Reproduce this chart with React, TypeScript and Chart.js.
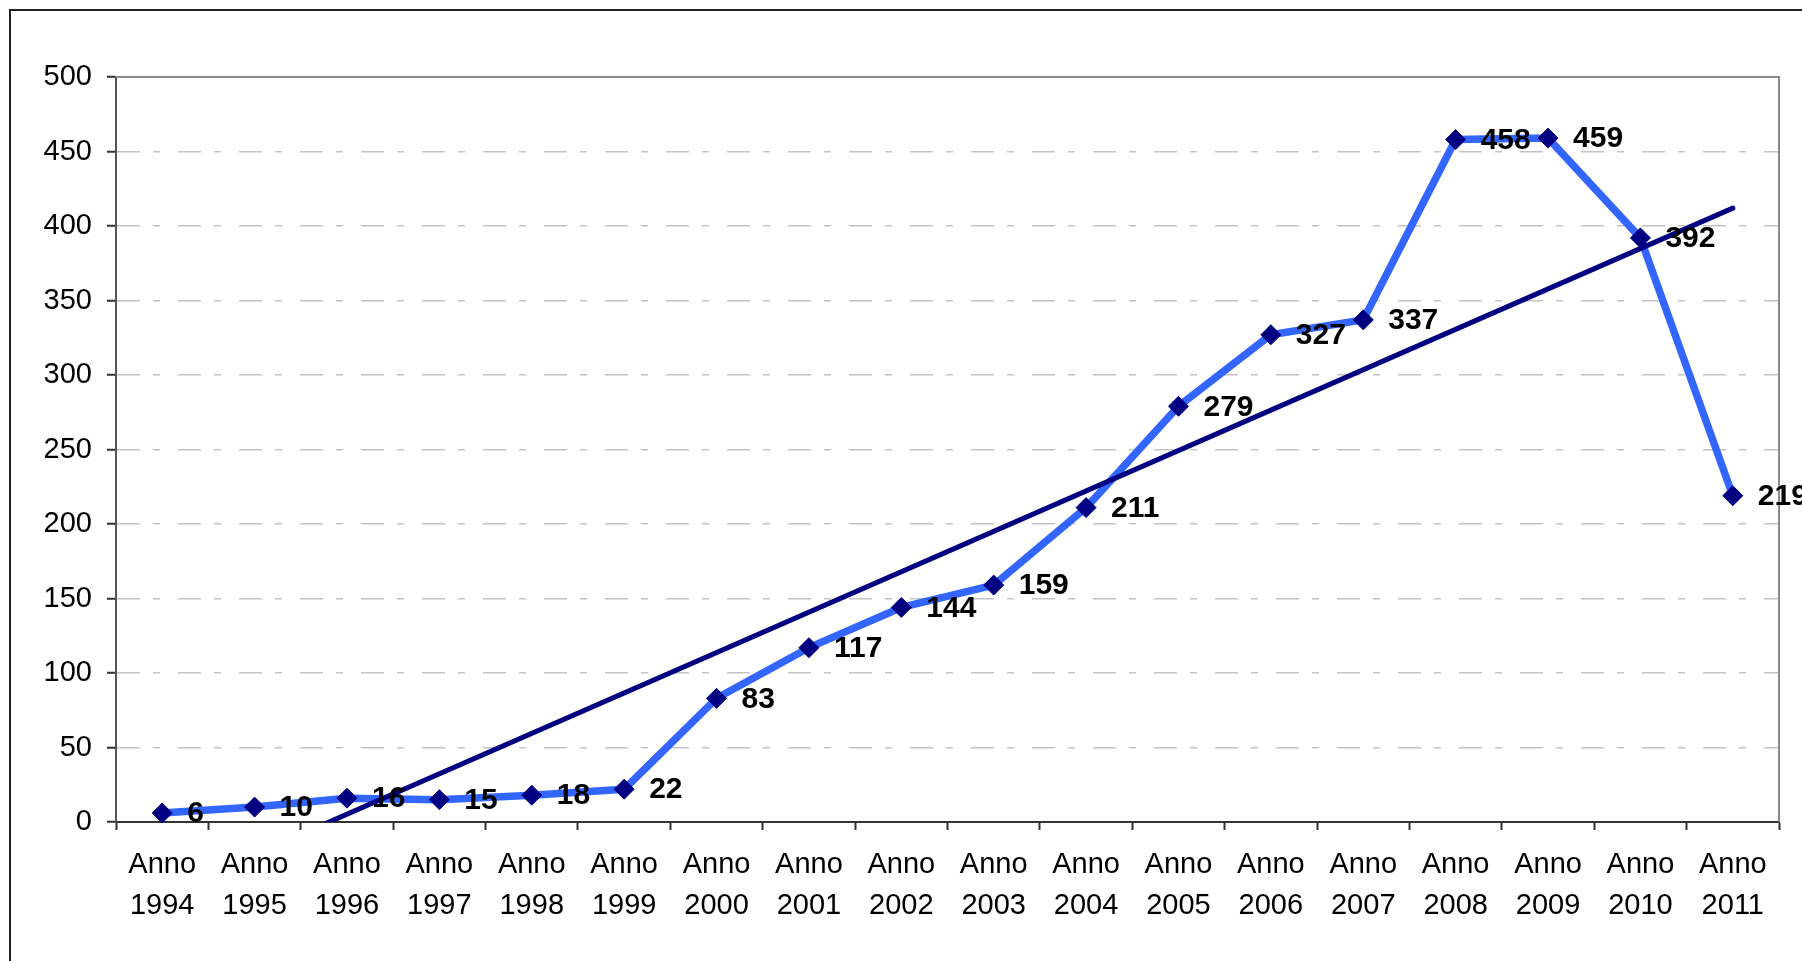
import React, { useEffect, useRef } from "react";
import { Chart, registerables } from "chart.js";

Chart.register(...registerables);

const years = [1994, 1995, 1996, 1997, 1998, 1999, 2000, 2001, 2002, 2003, 2004, 2005, 2006, 2007, 2008, 2009, 2010, 2011];
const categoryPrefix = "Anno";
const values = [6, 10, 16, 15, 18, 22, 83, 117, 144, 159, 211, 279, 327, 337, 458, 459, 392, 219];
// trend line (linear) as read at first and last year
const trendFirst = -49;
const trendLast = 412;
const yMin = 0;
const yMax = 500;
const yStep = 50;

const FONT = "'Liberation Sans', Arial, sans-serif";

export default function App() {
  const ref = useRef<HTMLCanvasElement | null>(null);

  useEffect(() => {
    if (!ref.current) return;
    const labels = years.map((y) => [categoryPrefix, String(y)]);
    const trend = values.map((_, i) => (i === 0 ? trendFirst : i === values.length - 1 ? trendLast : null));

    const plotFrame = {
      id: "plotFrame",
      beforeDatasetsDraw(chart: any) {
        const { ctx, chartArea } = chart;
        ctx.save();
        ctx.strokeStyle = "#8a8a8a";
        ctx.lineWidth = 2;
        ctx.beginPath();
        ctx.moveTo(chartArea.left, chartArea.top);
        ctx.lineTo(chartArea.right, chartArea.top);
        ctx.lineTo(chartArea.right, chartArea.bottom);
        ctx.stroke();
        ctx.restore();
      },
    };

    const dataLabels = {
      id: "dataLabels",
      afterDatasetsDraw(chart: any) {
        const { ctx } = chart;
        const meta = chart.getDatasetMeta(1);
        ctx.save();
        ctx.font = `bold 30px ${FONT}`;
        ctx.fillStyle = "#000000";
        ctx.textAlign = "left";
        ctx.textBaseline = "middle";
        meta.data.forEach((pt: any, i: number) => {
          ctx.fillText(String(values[i]), pt.x + 25, pt.y + 1);
        });
        ctx.restore();
      },
    };

    const chart = new Chart(ref.current, {
      type: "line",
      data: {
        labels,
        datasets: [
          {
            label: "Tendenza",
            data: trend as any,
            spanGaps: true,
            borderColor: "#000080",
            borderWidth: 5,
            borderCapStyle: "round",
            pointRadius: 0,
            pointHoverRadius: 0,
            tension: 0,
            clip: 0 as any,
          },
          {
            label: "Valori",
            data: values,
            borderColor: "#3366FF",
            borderWidth: 7.5,
            borderJoinStyle: "round",
            pointStyle: "rectRot",
            pointRadius: 10,
            pointBackgroundColor: "#000080",
            pointBorderColor: "#000080",
            pointBorderWidth: 1,
            tension: 0,
            clip: false as any,
          },
        ],
      },
      options: {
        animation: false,
        responsive: false,
        devicePixelRatio: 1,
        layout: { padding: { left: 0, right: 23, top: 77, bottom: 0 } },
        plugins: { legend: { display: false }, tooltip: { enabled: false } },
        scales: {
          x: {
            offset: true,
            afterFit(scale: any) {
              scale.height = 139;
            },
            grid: {
              offset: true,
              drawOnChartArea: false,
              drawTicks: true,
              tickLength: 8,
              tickColor: "#333333",
              tickWidth: 2,
            },
            border: { display: true, color: "#333333", width: 2 },
            ticks: {
              color: "#000000",
              font: { family: FONT, size: 29, lineHeight: 41 / 29 },
              padding: 14,
              maxRotation: 0,
              autoSkip: false,
            },
          },
          y: {
            min: yMin,
            max: yMax,
            afterFit(scale: any) {
              scale.width = 116;
            },
            grid: {
              color: "#c4c4c4",
              lineWidth: 1.5,
              tickLength: 9,
              tickColor: "#333333",
              tickWidth: 2,
              tickBorderDash: [],
            },
            border: { display: true, color: "#555555", width: 2, dash: [23, 13, 7, 18] },
            ticks: {
              stepSize: yStep,
              color: "#000000",
              font: { family: FONT, size: 29 },
              padding: 15,
            },
          },
        },
      },
      plugins: [plotFrame, dataLabels],
    });
    return () => chart.destroy();
  }, []);

  return (
    <div
      style={{
        position: "absolute",
        left: 0,
        top: 0,
        width: 1802,
        height: 961,
        overflow: "hidden",
        background: "#ffffff",
      }}
    >
      <div
        style={{
          position: "absolute",
          left: 9,
          top: 9,
          width: 2000,
          height: 2000,
          border: "2px solid #222222",
        }}
      />
      <canvas ref={ref} width={1802} height={961} style={{ position: "absolute", left: 0, top: 0 }} />
    </div>
  );
}
